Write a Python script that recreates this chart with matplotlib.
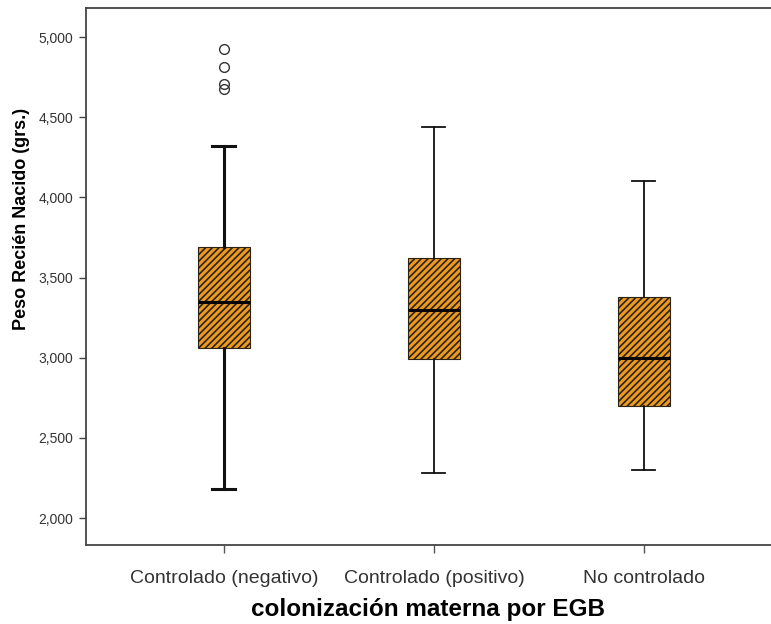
import matplotlib
matplotlib.use("Agg")
from matplotlib import pyplot as plt

plt.rcParams['font.family'] = ['Liberation Sans', 'DejaVu Sans']
plt.rcParams['hatch.linewidth'] = 1.2

# data
categories = ['Controlado (negativo)', 'Controlado (positivo)', 'No controlado']
whisker_low = [2180, 2280, 2300]
q1 = [3060, 2990, 2700]
medians = [3350, 3300, 3000]
q3 = [3690, 3620, 3380]
whisker_high = [4320, 4440, 4100]
outliers = [[4925, 4813, 4707, 4676], [], []]
y_ticks = [2000, 2500, 3000, 3500, 4000, 4500, 5000]

stats = []
for i, name in enumerate(categories):
    stats.append({'label': name, 'whislo': whisker_low[i], 'q1': q1[i], 'med': medians[i],
                  'q3': q3[i], 'whishi': whisker_high[i], 'fliers': outliers[i]})

fig = plt.figure(figsize=(7.71, 6.24), dpi=100)
ax = fig.add_axes([0.1115, 0.1266, 0.8885, 0.8606])

bp = ax.bxp(stats, positions=range(len(categories)), widths=0.25, capwidths=0.11,
            patch_artist=True, showfliers=True,
            boxprops=dict(facecolor='#EC9A22', edgecolor='#2b2214', linewidth=0.8, hatch='/////'),
            medianprops=dict(color='black', linewidth=2.2),
            whiskerprops=dict(color='#111111', linewidth=1.3),
            capprops=dict(color='#111111', linewidth=1.3),
            flierprops=dict(marker='o', markerfacecolor='none', markeredgecolor='#333333',
                            markersize=7, markeredgewidth=1.0))

# first group drawn with heavier whiskers in the original
for line in bp['whiskers'][:2] + bp['caps'][:2]:
    line.set_linewidth(2.2)

ax.set_xlim(-0.657, 2.605)
ax.set_ylim(1832, 5181)
ax.set_yticks(y_ticks)
ax.set_yticklabels([f"{v:,}" for v in y_ticks], fontsize=10, color='#333333')
ax.set_xticks(range(len(categories)))
ax.set_xticklabels(categories, fontsize=14, color='#333333')
ax.tick_params(axis='y', length=5, width=1, color='#444444', pad=4)
ax.tick_params(axis='x', length=6, width=1, color='#555555', pad=12)

for side in ['left', 'bottom', 'top']:
    ax.spines[side].set_color('#444444')
    ax.spines[side].set_linewidth(1.3)
ax.spines['right'].set_visible(False)

ax.set_ylabel('Peso Recién Nacido (grs.)', fontsize=13, fontweight='bold')
ax.yaxis.set_label_coords(-0.082, 0.607)
ax.set_xlabel('colonización materna por EGB', fontsize=17.5, fontweight='bold', labelpad=8)

fig.savefig('out.png', dpi=100)
